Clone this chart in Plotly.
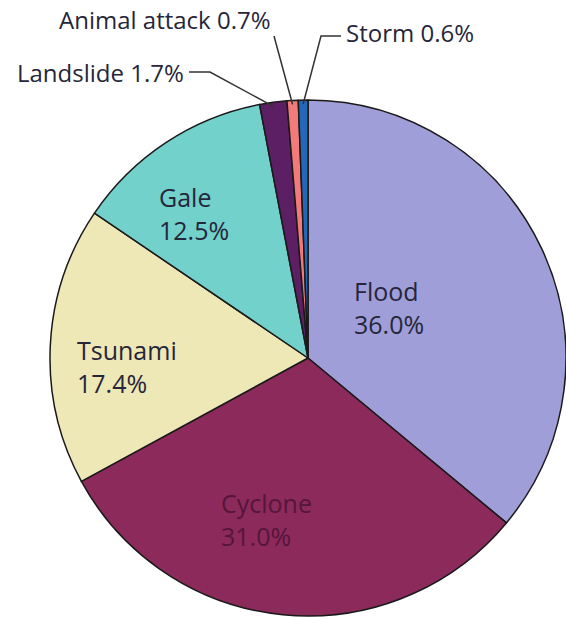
import math
import plotly.graph_objects as go

# Share of disaster-related deaths by cause
causes = ["Flood", "Cyclone", "Tsunami", "Gale", "Landslide", "Animal attack", "Storm"]
shares = [36.0, 31.0, 17.4, 12.5, 1.7, 0.7, 0.6]
colors = ["#a09ed8", "#8c2a5c", "#eee7b6", "#72d1cb", "#5c1f63", "#f27a78", "#2468b8"]

W, H = 566, 619
CX, CY, R = 308, 358, 258  # pie centre and radius in pixels

def px(x):
    return x / W

def py(y):
    return 1 - y / H

fig = go.Figure(go.Pie(
    labels=causes,
    values=shares,
    sort=False,
    direction="clockwise",
    rotation=0,
    textinfo="none",
    hoverinfo="label+percent",
    marker=dict(colors=colors, line=dict(color="#1a1a1a", width=1.5)),
    domain=dict(x=[px(CX - R), px(CX + R)], y=[py(CY + R), py(CY - R)]),
    showlegend=False,
))

total = sum(shares)

def edge_point(i, frac=0.5):
    # point on the outer edge of slice i (frac = position across the slice)
    start = sum(shares[:i]) / total
    f = start + frac * shares[i] / total
    ang = f * 2 * math.pi
    return CX + R * math.sin(ang), CY - R * math.cos(ang)

FONT = "Open Sans"
annotations = []
shapes = []

def label(text, x, y, color="#26263a", size=25, anchor="left"):
    annotations.append(dict(
        text=text, x=px(x), y=py(y), xref="paper", yref="paper",
        xanchor=anchor, yanchor="middle", align="left", showarrow=False,
        font=dict(family=FONT, size=size, color=color),
    ))

def fmt(i):
    return f"{shares[i]:.1f}%"

# Labels inside the large slices
label(f"{causes[0]}<br>{fmt(0)}", 352, 307)
label(f"{causes[1]}<br>{fmt(1)}", 219, 519, color="#55163a")
label(f"{causes[2]}<br>{fmt(2)}", 75, 366)
label(f"{causes[3]}<br>{fmt(3)}", 157, 213)

# Callouts for the thin slices
ex, ey = edge_point(4)
shapes.append(dict(type="path", xref="paper", yref="paper",
                   path=f"M {px(189)},{py(72)} L {px(210)},{py(72)} L {px(ex)},{py(ey + 4)}",
                   line=dict(color="#333", width=1.5)))
label(f"{causes[4]} {fmt(4)}", 186, 72, size=24, anchor="right")

ex, ey = edge_point(5)
shapes.append(dict(type="path", xref="paper", yref="paper",
                   path=f"M {px(274)},{py(36)} L {px(ex)},{py(ey + 4)}",
                   line=dict(color="#333", width=1.5)))
label(f"{causes[5]} {fmt(5)}", 273, 20, size=24, anchor="right")

ex, ey = edge_point(6)
shapes.append(dict(type="path", xref="paper", yref="paper",
                   path=f"M {px(341)},{py(36)} L {px(321)},{py(36)} L {px(ex)},{py(ey + 4)}",
                   line=dict(color="#333", width=1.5)))
label(f"{causes[6]} {fmt(6)}", 344, 32, size=24, anchor="left")

fig.update_layout(
    width=W, height=H,
    margin=dict(l=0, r=0, t=0, b=0),
    paper_bgcolor="white",
    plot_bgcolor="white",
    annotations=annotations,
    shapes=shapes,
    font=dict(family=FONT),
)

fig.write_html("out.html")
